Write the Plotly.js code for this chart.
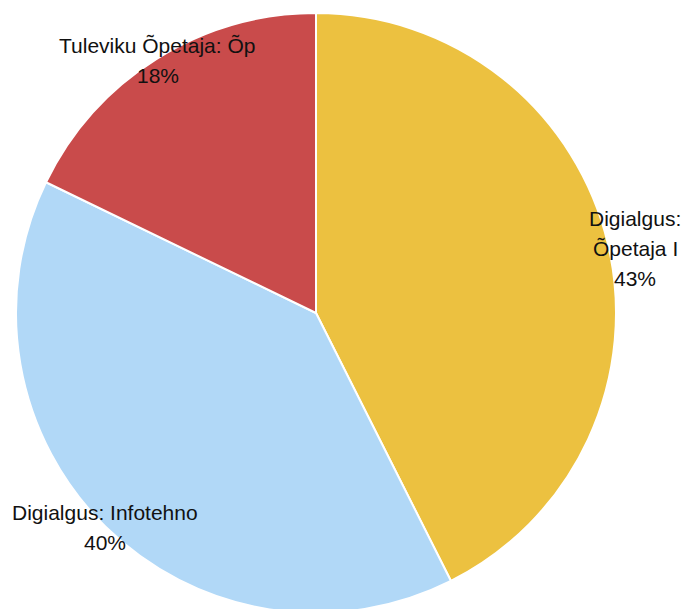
<!DOCTYPE html>
<html>
<head>
<meta charset="utf-8">
<script src="https://cdn.plot.ly/plotly-3.0.1.min.js"></script>
<style>
html, body { margin: 0; padding: 0; overflow: hidden; background: #ffffff; }
#chart { width: 683px; height: 620px; }
</style>
</head>
<body>
<div id="chart"></div>
<script>
// ---- data ----
const labels = ["Digialgus: Õpetaja I", "Digialgus: Infotehno", "Tuleviku Õpetaja: Õp"];
const values = [43, 40, 18];
const colors = ["#ECC140", "#B1D8F7", "#C94B4B"];

// ---- label layout (style) ----
const labelLines = [["Digialgus:", "Õpetaja I"], ["Digialgus: Infotehno"], ["Tuleviku Õpetaja: Õp"]];
const labelRadius = [1.085, 1.003, 0.993];
const labelAngleShift = [2.0, 0.0, 0.0];
const lineGap = 30;

const W = 683, H = 620;
const cx = 316, cy = 313, R = 300;

const total = values.reduce((a, b) => a + b, 0);
const annotations = [];
let cum = 0;
values.forEach((v, i) => {
  const mid = (cum + v / 2) / total * 360 + labelAngleShift[i];
  cum += v;
  const rad = mid * Math.PI / 180;
  const px = cx + R * labelRadius[i] * Math.sin(rad);
  const py = cy - R * labelRadius[i] * Math.cos(rad);
  const lines = labelLines[i].concat([Math.round(v / total * 100) + "%"]);
  lines.forEach((t, j) => {
    const ly = py + (j - (lines.length - 1) / 2) * lineGap;
    annotations.push({
      x: px / W, y: 1 - ly / H, xref: "paper", yref: "paper",
      text: t, showarrow: false, xanchor: "center", yanchor: "middle",
      font: { family: "Arial, Liberation Sans, sans-serif", size: 21, color: "#111111" }
    });
  });
});

const trace = {
  type: "pie",
  labels: labels,
  values: values,
  sort: false,
  direction: "clockwise",
  rotation: 0,
  textinfo: "none",
  hoverinfo: "none",
  marker: { colors: colors, line: { color: "#ffffff", width: 2 } },
  domain: { x: [(cx - R) / W, (cx + R) / W], y: [(H - cy - R) / H, (H - cy + R) / H] }
};

Plotly.newPlot("chart", [trace], {
  width: W, height: H,
  margin: { l: 0, r: 0, t: 0, b: 0 },
  showlegend: false,
  paper_bgcolor: "#ffffff",
  annotations: annotations
}, { displayModeBar: false, staticPlot: true });
</script>
</body>
</html>
